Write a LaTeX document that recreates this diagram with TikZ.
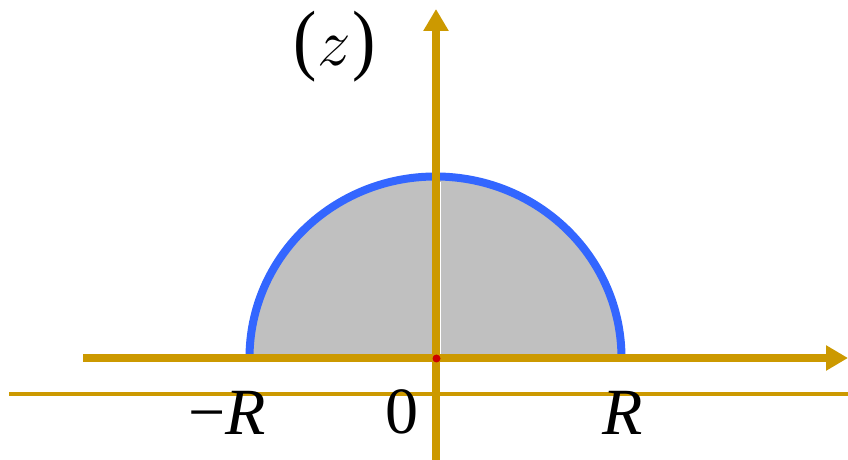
\documentclass[tikz,border=0pt]{standalone}
\usepackage{fontspec}
\setmainfont{Liberation Serif}
\usetikzlibrary{arrows.meta}
\definecolor{axisgold}{HTML}{CC9900}
\definecolor{arcblue}{HTML}{3366FF}
\definecolor{diskgray}{HTML}{C0C0C0}
\tikzset{
  axis/.style={axisgold, line width=8pt, -{Triangle[length=22pt, width=24pt]}},
  label/.style={anchor=base, inner sep=0pt, font=\fontsize{66}{72}\selectfont},
}

\begin{document}
\begin{tikzpicture}[x=1pt, y=1pt]
	\useasboundingbox (0,0) rectangle (848,460);
	% points of the picture
	\coordinate (o) at (435.5,102);
	\coordinate (xl) at (83,102);
	\coordinate (xr) at (848,102);
	\coordinate (yb) at (436,0);
	\coordinate (yt) at (436,451);
	\coordinate (bl) at (9,66);
	\coordinate (br) at (848,66);
	% half disk
	\fill[diskgray] (249.5,102) arc[start angle=180, end angle=0, x radius=186, y radius=181.5] -- cycle;
	\draw[white, line width=1.3pt] (440,103) -- (440,278);
	\draw[arcblue, line width=8pt] (249.5,102) arc[start angle=180, end angle=0, x radius=186, y radius=181.5];
	% axes
	\draw[axisgold, line width=4pt] (bl) -- (br);
	\draw[axis] (xl) -- (xr);
	\draw[axis] (yb) -- (yt);
	\fill[red!80!black] (436.5,101.5) circle (4pt);
	% labels
	\node[label] (mR) at (227,25) {−\textit{R}};
	\node[label] (zero) at (401.5,26) {0};
	\node[label] (pR) at (623,25) {\textit{R}};
	\node[label, font=\fontsize{70}{78}\selectfont] (zlab) at (334.5,394) {\scalebox{1}[1.12]{(}\kern1pt\scalebox{2.7}{\fontsize{24}{28}\selectfont$z$}\kern1pt\scalebox{1}[1.12]{)}};
\end{tikzpicture}
\end{document}
